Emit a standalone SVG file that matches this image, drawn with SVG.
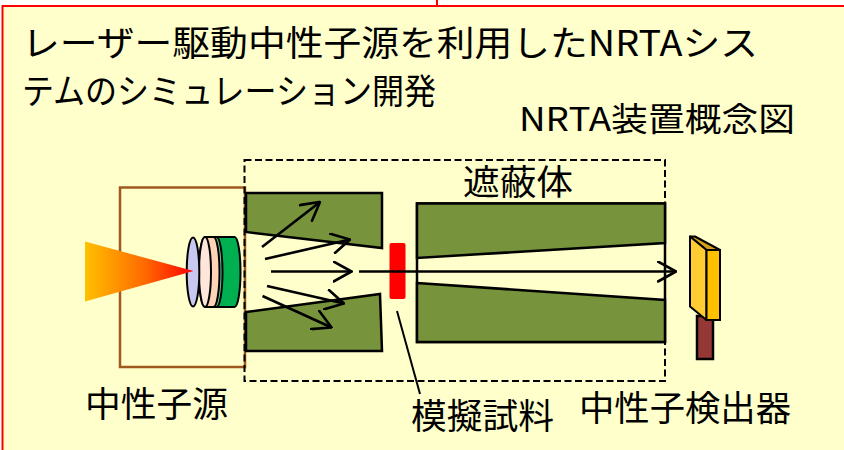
<svg xmlns="http://www.w3.org/2000/svg" width="844" height="450" viewBox="0 0 844 450">
  <defs>
    <linearGradient id="flame" x1="0" y1="0" x2="1" y2="0">
      <stop offset="0" stop-color="#FFC000"/>
      <stop offset="0.55" stop-color="#FF6A00"/>
      <stop offset="1" stop-color="#FF0000"/>
    </linearGradient>
    <marker id="head" viewBox="0 0 20 22" refX="19" refY="11" markerWidth="20" markerHeight="22" markerUnits="userSpaceOnUse" orient="auto">
      <path d="M1,1 L19,11 L1,21" fill="none" stroke="#000" stroke-width="2.6" stroke-linecap="round"/>
    </marker>
    <style>
      .t { font-family: "Noto Sans CJK JP", "Noto Sans", sans-serif; fill: #000; }
      .block { fill: #77933C; stroke: #000; stroke-width: 2.5; stroke-linejoin: miter; }
      .ray { fill: none; stroke: #000; stroke-width: 2.6; marker-end: url(#head); }
      .edge { stroke: #000; stroke-width: 2; }
    </style>
  </defs>

  <!-- page -->
  <rect x="0" y="0" width="844" height="450" fill="#FFFFFF"/>
  <rect x="2.5" y="6" width="860" height="460" fill="#FFFFCC" stroke="#FF0000" stroke-width="2"/>
  <line x1="437" y1="0" x2="437" y2="6" stroke="#FF0000" stroke-width="2"/>

  <!-- titles -->
  <g id="title">
    <text class="t" x="22" y="56" font-size="35" textLength="736" lengthAdjust="spacingAndGlyphs">レーザー駆動中性子源を利用したNRTAシス</text>
    <text class="t" x="22" y="104" font-size="35" textLength="414" lengthAdjust="spacingAndGlyphs">テムのシミュレーション開発</text>
  </g>
  <g id="caption">
    <text class="t" x="519" y="131" font-size="33" textLength="276" lengthAdjust="spacingAndGlyphs">NRTA装置概念図</text>
  </g>

  <!-- neutron source housing -->
  <g id="source">
    <rect x="120" y="187.5" width="125" height="179.5" fill="none" stroke="#A0581E" stroke-width="2.5"/>
    <path d="M216.5,237 L234.5,237 A6,35 0 0 1 234.5,307 L216.5,307 A6,35 0 0 1 216.5,237 Z" fill="#00B050" class="edge"/>
    <path d="M213.5,237 L216.5,237 A6,35 0 0 1 216.5,307 L213.5,307 A6,35 0 0 1 213.5,237 Z" fill="#66CC99" class="edge"/>
    <path d="M205,237 L213.5,237 A6,35 0 0 1 213.5,307 L205,307 A6,35 0 0 1 205,237 Z" fill="#FFD3B5" class="edge"/>
    <ellipse cx="205" cy="272" rx="6" ry="35" fill="#FFE6DA" class="edge"/>
    <ellipse cx="193" cy="272" rx="6.3" ry="34.5" fill="#C8C8F0" class="edge"/>
    <polygon points="85,241.5 85,301.5 193.5,271" fill="url(#flame)"/>
    <text class="t" x="85" y="417" font-size="35" textLength="143" lengthAdjust="spacingAndGlyphs">中性子源</text>
  </g>

  <!-- shielding -->
  <g id="shield">
    <rect x="244.5" y="160" width="420.5" height="221" fill="none" stroke="#000" stroke-width="2" stroke-dasharray="7 3.5"/>
    <polygon class="block" points="246,193 382,193 382,248 246,232"/>
    <polygon class="block" points="246,312 380,294 382,351 246,351"/>
    <rect x="417" y="203.5" width="248" height="138.5" fill="#FFFFCC" stroke="#000" stroke-width="2.5"/>
    <polygon class="block" points="417,203.5 665,203.5 665,243 417,258"/>
    <polygon class="block" points="417,283 665,300 665,342 417,342"/>
    <text class="t" x="463" y="195" font-size="35" textLength="110" lengthAdjust="spacingAndGlyphs">遮蔽体</text>
  </g>

  <!-- sample -->
  <g id="sample">
    <rect x="389.5" y="243" width="16" height="56" rx="2" fill="#FF0000"/>
    <text class="t" x="411" y="429" font-size="35" textLength="143" lengthAdjust="spacingAndGlyphs">模擬試料</text>
  </g>

  <!-- detector -->
  <g id="detector">
    <rect x="697" y="316" width="16" height="43" fill="#953735" stroke="#000" stroke-width="2.5"/>
    <polygon points="690,236.5 695,236.5 720,250 706.5,250" fill="#D4A017" stroke="#000" stroke-width="2" stroke-linejoin="round"/>
    <polygon points="690,236.5 706.5,250 706.5,320 690,306.5" fill="#FFCC33" stroke="#000" stroke-width="2" stroke-linejoin="round"/>
    <rect x="706.5" y="250" width="13.5" height="70" fill="#FFC000" stroke="#000" stroke-width="2"/>
    <text class="t" x="579" y="421" font-size="35" textLength="212" lengthAdjust="spacingAndGlyphs">中性子検出器</text>
  </g>

  <!-- neutron paths and leader -->
  <g id="connectors">
    <line class="ray" x1="262" y1="247" x2="320" y2="202"/>
    <line class="ray" x1="265" y1="259" x2="350" y2="239.5"/>
    <line class="ray" x1="271" y1="271.5" x2="351.5" y2="271.5"/>
    <line class="ray" x1="267" y1="286" x2="344" y2="303.5"/>
    <line class="ray" x1="262.5" y1="296" x2="331.5" y2="327.5"/>
    <line class="ray" x1="359" y1="271.5" x2="676" y2="271.5"/>
    <line x1="397" y1="311" x2="420" y2="394" stroke="#000" stroke-width="2"/>
  </g>
</svg>
